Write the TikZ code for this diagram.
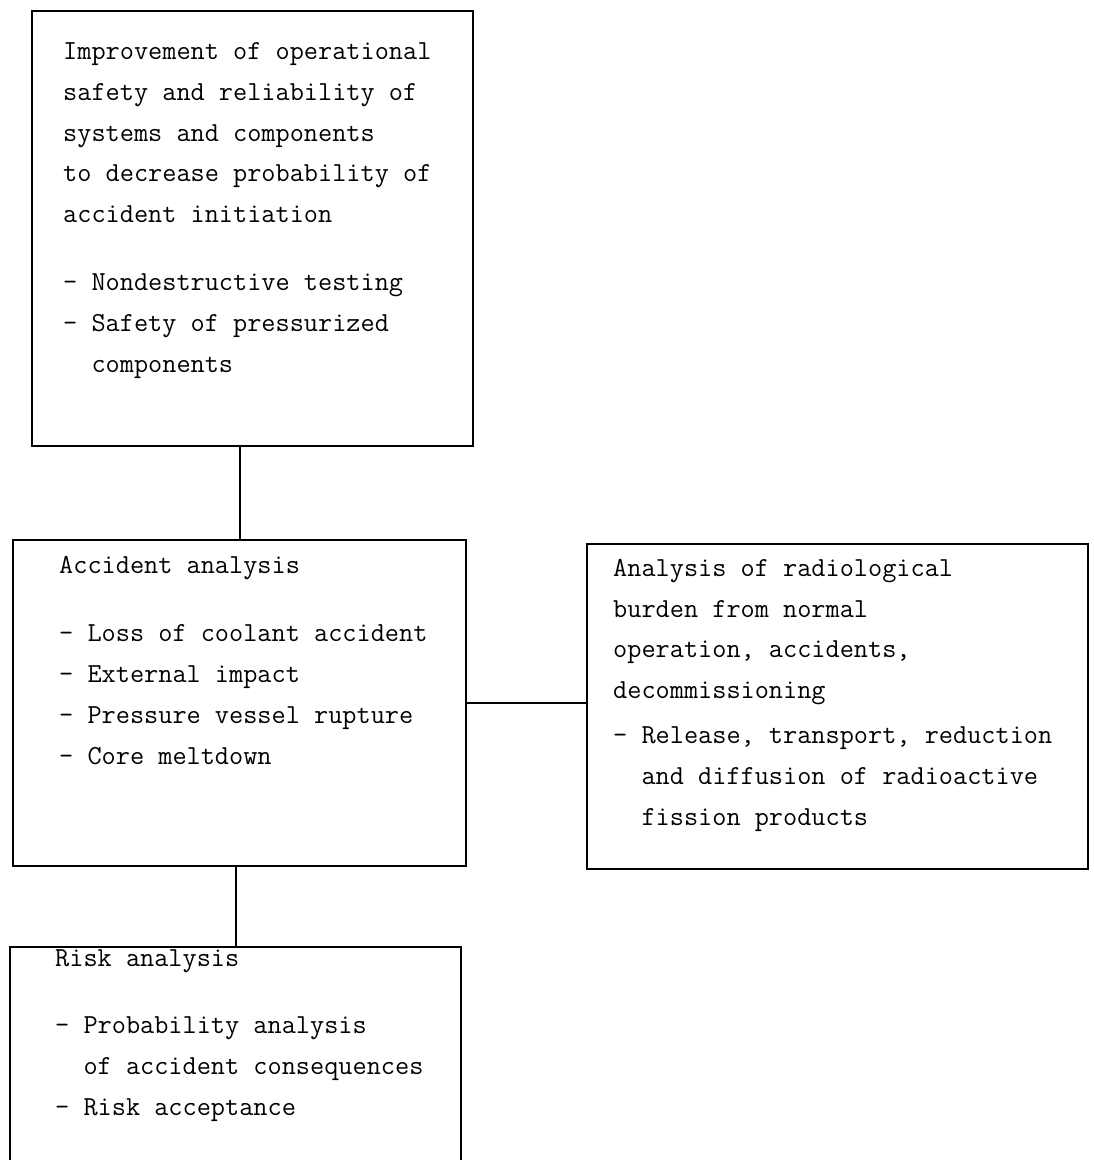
\documentclass[tikz,border=0pt]{standalone}
\begin{document}
\begin{tikzpicture}[x=1pt,y=-1pt,
  box/.style={draw, line width=2.4pt, rectangle, inner sep=0pt, anchor=north west},
  txt/.style={anchor=base west, align=left, inner sep=0pt,
    font=\ttfamily\fontsize{27.5}{40.8}\selectfont},
  link/.style={line width=2.4pt}]
\useasboundingbox (0,0) rectangle (1094,1160);
\clip (0,0) rectangle (1094,1160);
% boxes
\node[box, minimum width=441pt, minimum height=435pt] (top) at (31,10) {};
\node[box, minimum width=453pt, minimum height=326pt] (acc) at (12,539) {};
\node[box, minimum width=501pt, minimum height=325pt] (rad) at (586,543) {};
\node[box, minimum width=451pt, minimum height=300pt] (risk) at (9,946) {};
% texts (anchored at the baseline of their last line)
\node[txt] (toptext) at (63,372) {Improvement of operational\\
safety and reliability of\\
systems and components\\
to decrease probability of\\
accident initiation\\[27pt]
- Nondestructive testing\\
- Safety of pressurized\\
\hphantom{-~}components};
\node[txt] (acctext) at (59,764) {Accident analysis\\[27pt]
- Loss of coolant accident\\
- External impact\\
- Pressure vessel rupture\\
- Core meltdown};
\node[txt] (radtext) at (613,825) {Analysis of radiological\\
burden from normal\\
operation, accidents,\\
decommissioning\\[4pt]
- Release, transport, reduction\\
\hphantom{-~}and diffusion of radioactive\\
\hphantom{-~}fission products};
\node[txt] (risktext) at (55,1115) {Risk analysis\\[26pt]
- Probability analysis\\
\hphantom{-~}of accident consequences\\
- Risk acceptance};
% connectors
\draw[link] (acc.north) -- (acc.north |- top.south);
\draw[link] (acc.east) -- (acc.east -| rad.west);
\draw[link] (risk.north) -- (risk.north |- acc.south);
\end{tikzpicture}
\end{document}
